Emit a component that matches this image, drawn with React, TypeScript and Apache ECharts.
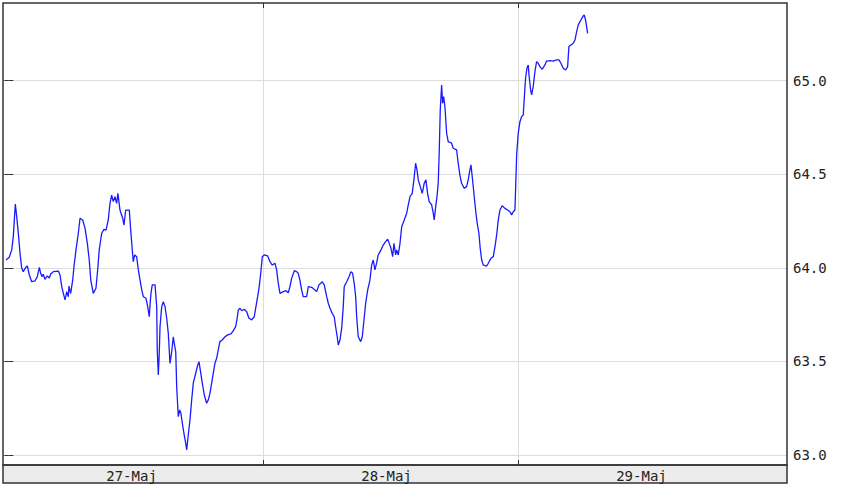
import React, { useEffect, useRef } from "react";
import * as echarts from "echarts";

// hours since 27-Maj 00:00
const times: number[] = [
  -0.22, 0.09, 0.32, 0.47, 0.66, 0.79, 0.94, 1.10, 1.26, 1.41, 1.67, 1.79, 1.98, 2.20, 2.51, 2.73, 2.92, 3.05, 3.17, 3.29,
  3.45, 3.67, 3.86, 3.99, 4.24, 4.71, 4.87, 5.03, 5.18, 5.34, 5.50, 5.65, 5.71, 5.87, 6.06, 6.18, 6.37, 6.59, 6.75, 7.00,
  7.22, 7.44, 7.62, 7.76, 8.00, 8.25, 8.41, 8.56, 8.79, 9.01, 9.20, 9.41, 9.57, 9.73, 9.88, 10.04, 10.20, 10.32, 10.51, 10.77,
  10.89, 11.05, 11.39, 11.52, 11.67, 11.76, 11.90, 12.08, 12.24, 12.40, 12.56, 12.71, 12.96, 13.12, 13.27, 13.34, 13.43, 13.55, 13.81, 13.97,
  14.02, 14.12, 14.21, 14.28, 14.44, 14.59, 14.75, 14.91, 15.06, 15.22, 15.38, 15.53, 15.62, 15.76, 15.85, 16.00, 16.13, 16.25, 16.38, 16.56,
  16.70, 16.79, 16.94, 17.10, 17.26, 17.41, 17.64, 17.83, 17.95, 18.07, 18.26, 18.45, 18.67, 18.82, 18.98, 19.14, 19.29, 19.45, 19.61, 19.76,
  19.92, 20.14, 20.40, 20.65, 20.96, 21.18, 21.40, 21.52, 21.65, 21.81, 21.97, 22.21, 22.44, 22.65, 22.91, 23.15, 23.31, 23.47, 23.62, 23.76,
  23.91, 24.09, 24.41, 24.63, 24.85, 25.10, 25.26, 25.41, 25.57, 25.88, 26.14, 26.35, 26.51, 26.67, 26.92, 27.14, 27.29, 27.45, 27.61, 27.76,
  28.08, 28.24, 28.56, 28.87, 29.03, 29.24, 29.55, 29.74, 29.97, 30.12, 30.28, 30.49, 30.68, 30.81, 30.96, 31.06, 31.22, 31.38, 31.53, 31.62,
  31.85, 32.07, 32.25, 32.41, 32.56, 32.70, 32.79, 32.94, 33.17, 33.32, 33.48, 33.64, 33.83, 34.04, 34.20, 34.35, 34.51, 34.67, 34.82, 35.08,
  35.29, 35.52, 35.71, 35.86, 36.02, 36.18, 36.30, 36.46, 36.56, 36.71, 36.87, 37.03, 37.27, 37.50, 37.65, 37.81, 38.02, 38.18, 38.34, 38.47,
  38.59, 38.78, 38.96, 39.15, 39.31, 39.47, 39.62, 39.85, 40.00, 40.09, 40.23, 40.35, 40.47, 40.56, 40.66, 40.79, 40.88, 40.98, 41.10, 41.26,
  41.41, 41.73, 41.88, 42.20, 42.35, 42.51, 42.67, 42.92, 43.14, 43.29, 43.45, 43.55, 43.67, 43.86, 44.02, 44.14, 44.30, 44.42, 44.56, 44.71,
  45.03, 45.18, 45.43, 45.65, 45.81, 45.97, 46.12, 46.28, 46.49, 46.75, 47.00, 47.22, 47.38, 47.53, 47.69, 47.75, 47.85, 48.00, 48.16, 48.32,
  48.47, 48.56, 48.69, 48.82, 48.94, 49.03, 49.17, 49.26, 49.41, 49.57, 49.73, 49.88, 50.04, 50.26, 50.51, 50.67, 50.98, 51.29, 51.61, 51.83,
  52.02, 52.24, 52.46, 52.65, 52.77, 52.96, 53.18, 53.34, 53.50, 53.65, 53.90, 54.12, 54.21, 54.34, 54.44, 54.53,
];

const prices: number[] = [
  64.042, 64.057, 64.096, 64.167, 64.341, 64.274, 64.186, 64.080, 63.999, 63.980, 64.005, 64.010, 63.962, 63.926, 63.930, 63.953, 64.003, 63.971, 63.953, 63.966,
  63.939, 63.957, 63.946, 63.967, 63.980, 63.983, 63.962, 63.900, 63.864, 63.829, 63.873, 63.846, 63.903, 63.864, 63.935, 64.006, 64.096, 64.185, 64.265, 64.256,
  64.212, 64.131, 64.042, 63.935, 63.864, 63.891, 63.989, 64.096, 64.185, 64.206, 64.202, 64.256, 64.345, 64.389, 64.354, 64.380, 64.345, 64.398, 64.309, 64.265,
  64.229, 64.309, 64.309, 64.202, 64.096, 64.033, 64.069, 64.060, 63.989, 63.935, 63.882, 63.846, 63.838, 63.793, 63.739, 63.802, 63.864, 63.909, 63.909, 63.793,
  63.561, 63.428, 63.544, 63.686, 63.793, 63.819, 63.793, 63.731, 63.651, 63.490, 63.552, 63.632, 63.597, 63.552, 63.365, 63.205, 63.241, 63.223, 63.170, 63.107,
  63.063, 63.027, 63.107, 63.187, 63.294, 63.384, 63.437, 63.481, 63.499, 63.455, 63.384, 63.321, 63.277, 63.294, 63.330, 63.384, 63.437, 63.490, 63.517, 63.561,
  63.606, 63.615, 63.632, 63.642, 63.647, 63.665, 63.686, 63.722, 63.775, 63.784, 63.771, 63.779, 63.766, 63.731, 63.722, 63.739, 63.793, 63.846, 63.900, 63.971,
  64.060, 64.069, 64.064, 64.033, 64.015, 64.025, 63.989, 63.918, 63.864, 63.873, 63.878, 63.867, 63.900, 63.944, 63.985, 63.980, 63.971, 63.935, 63.882, 63.846,
  63.846, 63.900, 63.896, 63.882, 63.873, 63.909, 63.926, 63.909, 63.846, 63.811, 63.784, 63.757, 63.739, 63.686, 63.632, 63.588, 63.615, 63.677, 63.793, 63.900,
  63.926, 63.953, 63.980, 63.971, 63.918, 63.846, 63.739, 63.632, 63.606, 63.632, 63.722, 63.811, 63.882, 63.935, 64.015, 64.042, 63.989, 64.025, 64.069, 64.096,
  64.122, 64.140, 64.153, 64.131, 64.105, 64.060, 64.131, 64.069, 64.096, 64.069, 64.131, 64.220, 64.256, 64.292, 64.336, 64.380, 64.398, 64.470, 64.559, 64.523,
  64.470, 64.434, 64.398, 64.452, 64.470, 64.398, 64.354, 64.336, 64.292, 64.256, 64.327, 64.380, 64.452, 64.612, 64.843, 64.977, 64.879, 64.915, 64.861, 64.719,
  64.674, 64.666, 64.639, 64.630, 64.559, 64.496, 64.452, 64.425, 64.434, 64.470, 64.523, 64.550, 64.487, 64.380, 64.292, 64.238, 64.185, 64.105, 64.042, 64.015,
  64.010, 64.025, 64.051, 64.060, 64.113, 64.176, 64.256, 64.309, 64.332, 64.318, 64.309, 64.300, 64.283, 64.300, 64.309, 64.416, 64.603, 64.719, 64.781, 64.808,
  64.817, 64.897, 65.013, 65.066, 65.084, 65.021, 64.950, 64.924, 64.968, 65.048, 65.102, 65.093, 65.075, 65.061, 65.084, 65.105, 65.107, 65.105, 65.111, 65.111,
  65.093, 65.066, 65.057, 65.075, 65.182, 65.191, 65.200, 65.217, 65.262, 65.298, 65.324, 65.346, 65.351, 65.324, 65.289, 65.253,
];

const dayLabels: string[] = ["27-Maj", "28-Maj", "29-Maj"];
const dayLabelHours: number[] = [11.6, 35.6, 59.6];
const dayBoundaryHours: number[] = [24, 48];
const yTicks: number[] = [63.0, 63.5, 64.0, 64.5, 65.0];

const FONT = "'DejaVu Sans Mono', monospace";

export default function App() {
  const ref = useRef<HTMLDivElement>(null);

  useEffect(() => {
    if (!ref.current) return;
    const chart = echarts.init(ref.current, undefined, { renderer: "svg" });
    const data = times.map((t, i) => [t, prices[i]]);
    const xMin = -0.5;
    const xMax = 73.3;
    const yMin = 62.947;
    const yMax = 65.415;
    const tickStyle = { color: "#333", width: 1 };

    chart.setOption({
      animation: false,
      backgroundColor: "#ffffff",
      grid: {
        left: 3,
        top: 3,
        right: 57,
        bottom: 20,
        show: true,
        borderColor: "#333",
        borderWidth: 1.5,
        backgroundColor: "transparent",
        z: 3,
      },
      xAxis: [
        {
          type: "value",
          position: "bottom",
          min: xMin,
          max: xMax,
          axisLine: { show: false },
          axisTick: { show: true, inside: true, length: 5, customValues: dayBoundaryHours, lineStyle: tickStyle },
          splitLine: { show: true, lineStyle: { color: "#dddddd", width: 1 } },
          axisLabel: {
            show: true,
            customValues: dayLabelHours,
            margin: 4,
            color: "#222",
            fontFamily: FONT,
            fontSize: 14,
            formatter: (v: number) => dayLabels[Math.floor(v / 24)] ?? "",
          },
        },
        {
          type: "value",
          position: "top",
          min: xMin,
          max: xMax,
          axisLine: { show: false },
          axisTick: { show: true, inside: true, length: 5, customValues: dayBoundaryHours, lineStyle: tickStyle },
          splitLine: { show: false },
          axisLabel: { show: false },
        },
      ],
      yAxis: [
        {
          type: "value",
          position: "right",
          min: yMin,
          max: yMax,
          axisLine: { show: false },
          axisTick: { show: true, inside: true, length: 4, customValues: yTicks, lineStyle: tickStyle },
          splitLine: { show: true, lineStyle: { color: "#dddddd", width: 1 } },
          axisLabel: {
            show: true,
            customValues: yTicks,
            margin: 6,
            color: "#222",
            fontFamily: FONT,
            fontSize: 14,
            formatter: (v: number) => v.toFixed(1),
          },
        },
        {
          type: "value",
          position: "left",
          min: yMin,
          max: yMax,
          axisLine: { show: false },
          axisTick: { show: true, inside: true, length: 5, customValues: yTicks, lineStyle: tickStyle },
          splitLine: { show: false },
          axisLabel: { show: false },
        },
      ],
      graphic: [
        {
          type: "rect",
          shape: { x: 3, y: 465, width: 784, height: 18 },
          style: { fill: "#ececec", stroke: "#333", lineWidth: 1.5 },
          z: -1,
          silent: true,
        },
      ],
      series: [
        {
          type: "line",
          xAxisIndex: 0,
          yAxisIndex: 0,
          data,
          showSymbol: false,
          symbol: "none",
          lineStyle: { color: "#1a1aff", width: 1.3 },
          z: 2,
        },
      ],
    });

    return () => chart.dispose();
  }, []);

  return (
    <div
      ref={ref}
      style={{ position: "fixed", left: 0, top: 0, width: 844, height: 485, background: "#fff" }}
    />
  );
}
